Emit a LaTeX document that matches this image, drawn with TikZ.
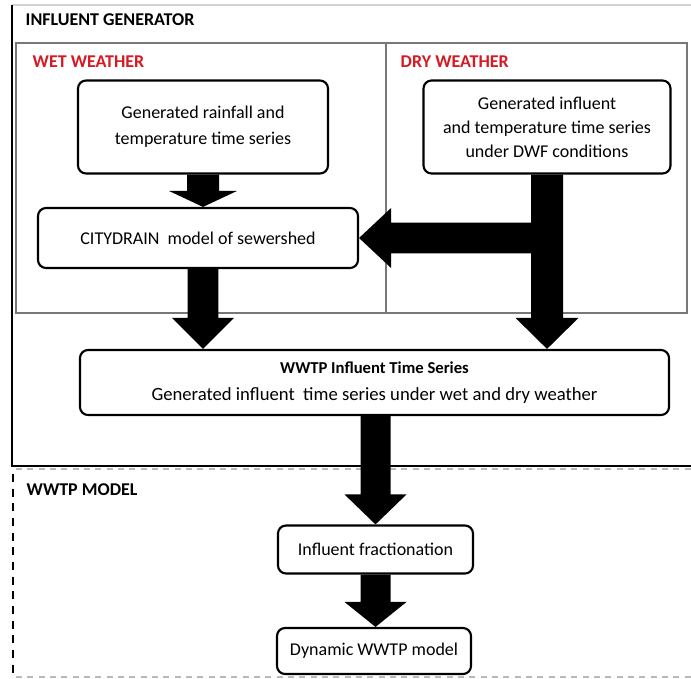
\documentclass[tikz,border=0pt]{standalone}
\usepackage{fontspec}
\setmainfont{Carlito}
\usetikzlibrary{calc}
\definecolor{wetred}{RGB}{215,25,35}
\definecolor{framegray}{RGB}{120,120,120}

% filled block arrow pointing down: from, to, shaft half-width, head half-width, head length
\newcommand\blockdown[5]{%
  \fill let \p1=(#1), \p2=(#2) in
    (\x1-#3,\y1) -- (\x1+#3,\y1) -- (\x1+#3,\y2+#5) -- (\x1+#4,\y2+#5)
    -- (\x1,\y2) -- (\x1-#4,\y2+#5) -- (\x1-#3,\y2+#5) -- cycle;}
% filled block arrow pointing left
\newcommand\blockleft[5]{%
  \fill let \p1=(#1), \p2=(#2) in
    (\x1,\y1+#3) -- (\x2+#5,\y1+#3) -- (\x2+#5,\y1+#4) -- (\x2,\y1)
    -- (\x2+#5,\y1-#4) -- (\x2+#5,\y1-#3) -- (\x1,\y1-#3) -- cycle;}

\begin{document}
\begin{tikzpicture}[x=0.75pt,y=-0.75pt,
  font=\fontsize{13.5}{18}\selectfont,
  procbox/.style={draw, line width=1.6pt, rounded corners=6pt, fill=white,
    align=center, inner sep=0pt},
  head/.style={anchor=west, font=\fontsize{13.5}{16}\selectfont\bfseries},
  subhead/.style={head, text=wetred}]
\useasboundingbox (0,0) rectangle (691,678);

% influent generator frame
\draw[gray!35, line width=1pt] (12,5) -- (691,5);
\draw[line width=1.6pt] (12,5) -- (12,466) -- (691,466);
\draw[framegray, line width=1.5pt] (16,43) rectangle (687,313);
\draw[framegray, line width=1.2pt] (386,43) -- (386,313);

% WWTP model frame
\draw[gray!55, line width=1.2pt, dash pattern=on 4.5pt off 4pt] (16,469) -- (691,469);
\draw[line width=1.8pt, dash pattern=on 6pt off 5pt] (13,474) -- (13,677);
\draw[gray!55, line width=1.2pt, dash pattern=on 4.5pt off 4pt] (16,677) -- (691,677);

\node[head] (tgen) at (21,20) {INFLUENT GENERATOR};
\node[subhead] (twet) at (28,62) {WET WEATHER};
\node[subhead] (tdry) at (396,62) {DRY WEATHER};
\node[head] (tmodel) at (22,490) {WWTP MODEL};

% process boxes
\node[procbox, minimum width=187.5pt, minimum height=69.75pt,
  font=\fontsize{13.5}{19.5}\selectfont] (b1) at (203,127)
  {Generated rainfall and\\temperature time series};
\node[procbox, minimum width=185.25pt, minimum height=69.75pt] (b2) at (547,127)
  {Generated influent\\and temperature time series\\under DWF conditions};
\node[procbox, minimum width=240pt, minimum height=45pt] (b3) at (198,238)
  {CITYDRAIN\ \ model of sewershed};
\node[procbox, minimum width=441.75pt, minimum height=48.75pt,
  font=\fontsize{14}{20}\selectfont] (b4) at (374.5,382.5)
  {{\fontsize{12.5}{15}\selectfont\bfseries WWTP Influent Time Series}\\
   Generated influent\ \ time series under wet and dry weather};
\node[procbox, minimum width=146.25pt, minimum height=36pt] (b5) at (375.5,549.5)
  {Influent fractionation};
\node[procbox, minimum width=145.5pt, minimum height=34.5pt] (b6) at (374,651)
  {Dynamic WWTP model};

% block arrows
\coordinate (split) at (b2.south |- b3.east);
\blockdown{b1.south}{b1.south |- b3.north}{12pt}{25.5pt}{12pt}
\blockdown{b1.south |- b3.south}{b1.south |- b4.north}{11.6pt}{23.25pt}{23.25pt}
\blockdown{b2.south}{b2.south |- b4.north}{12pt}{23.6pt}{23.25pt}
\blockleft{split}{b3.east}{11.6pt}{22.5pt}{24pt}
\blockdown{b5.north |- b4.south}{b5.north}{11.25pt}{23.25pt}{22.5pt}
\blockdown{b5.south}{b6.north}{11.25pt}{23.25pt}{18.75pt}
\end{tikzpicture}
\end{document}
